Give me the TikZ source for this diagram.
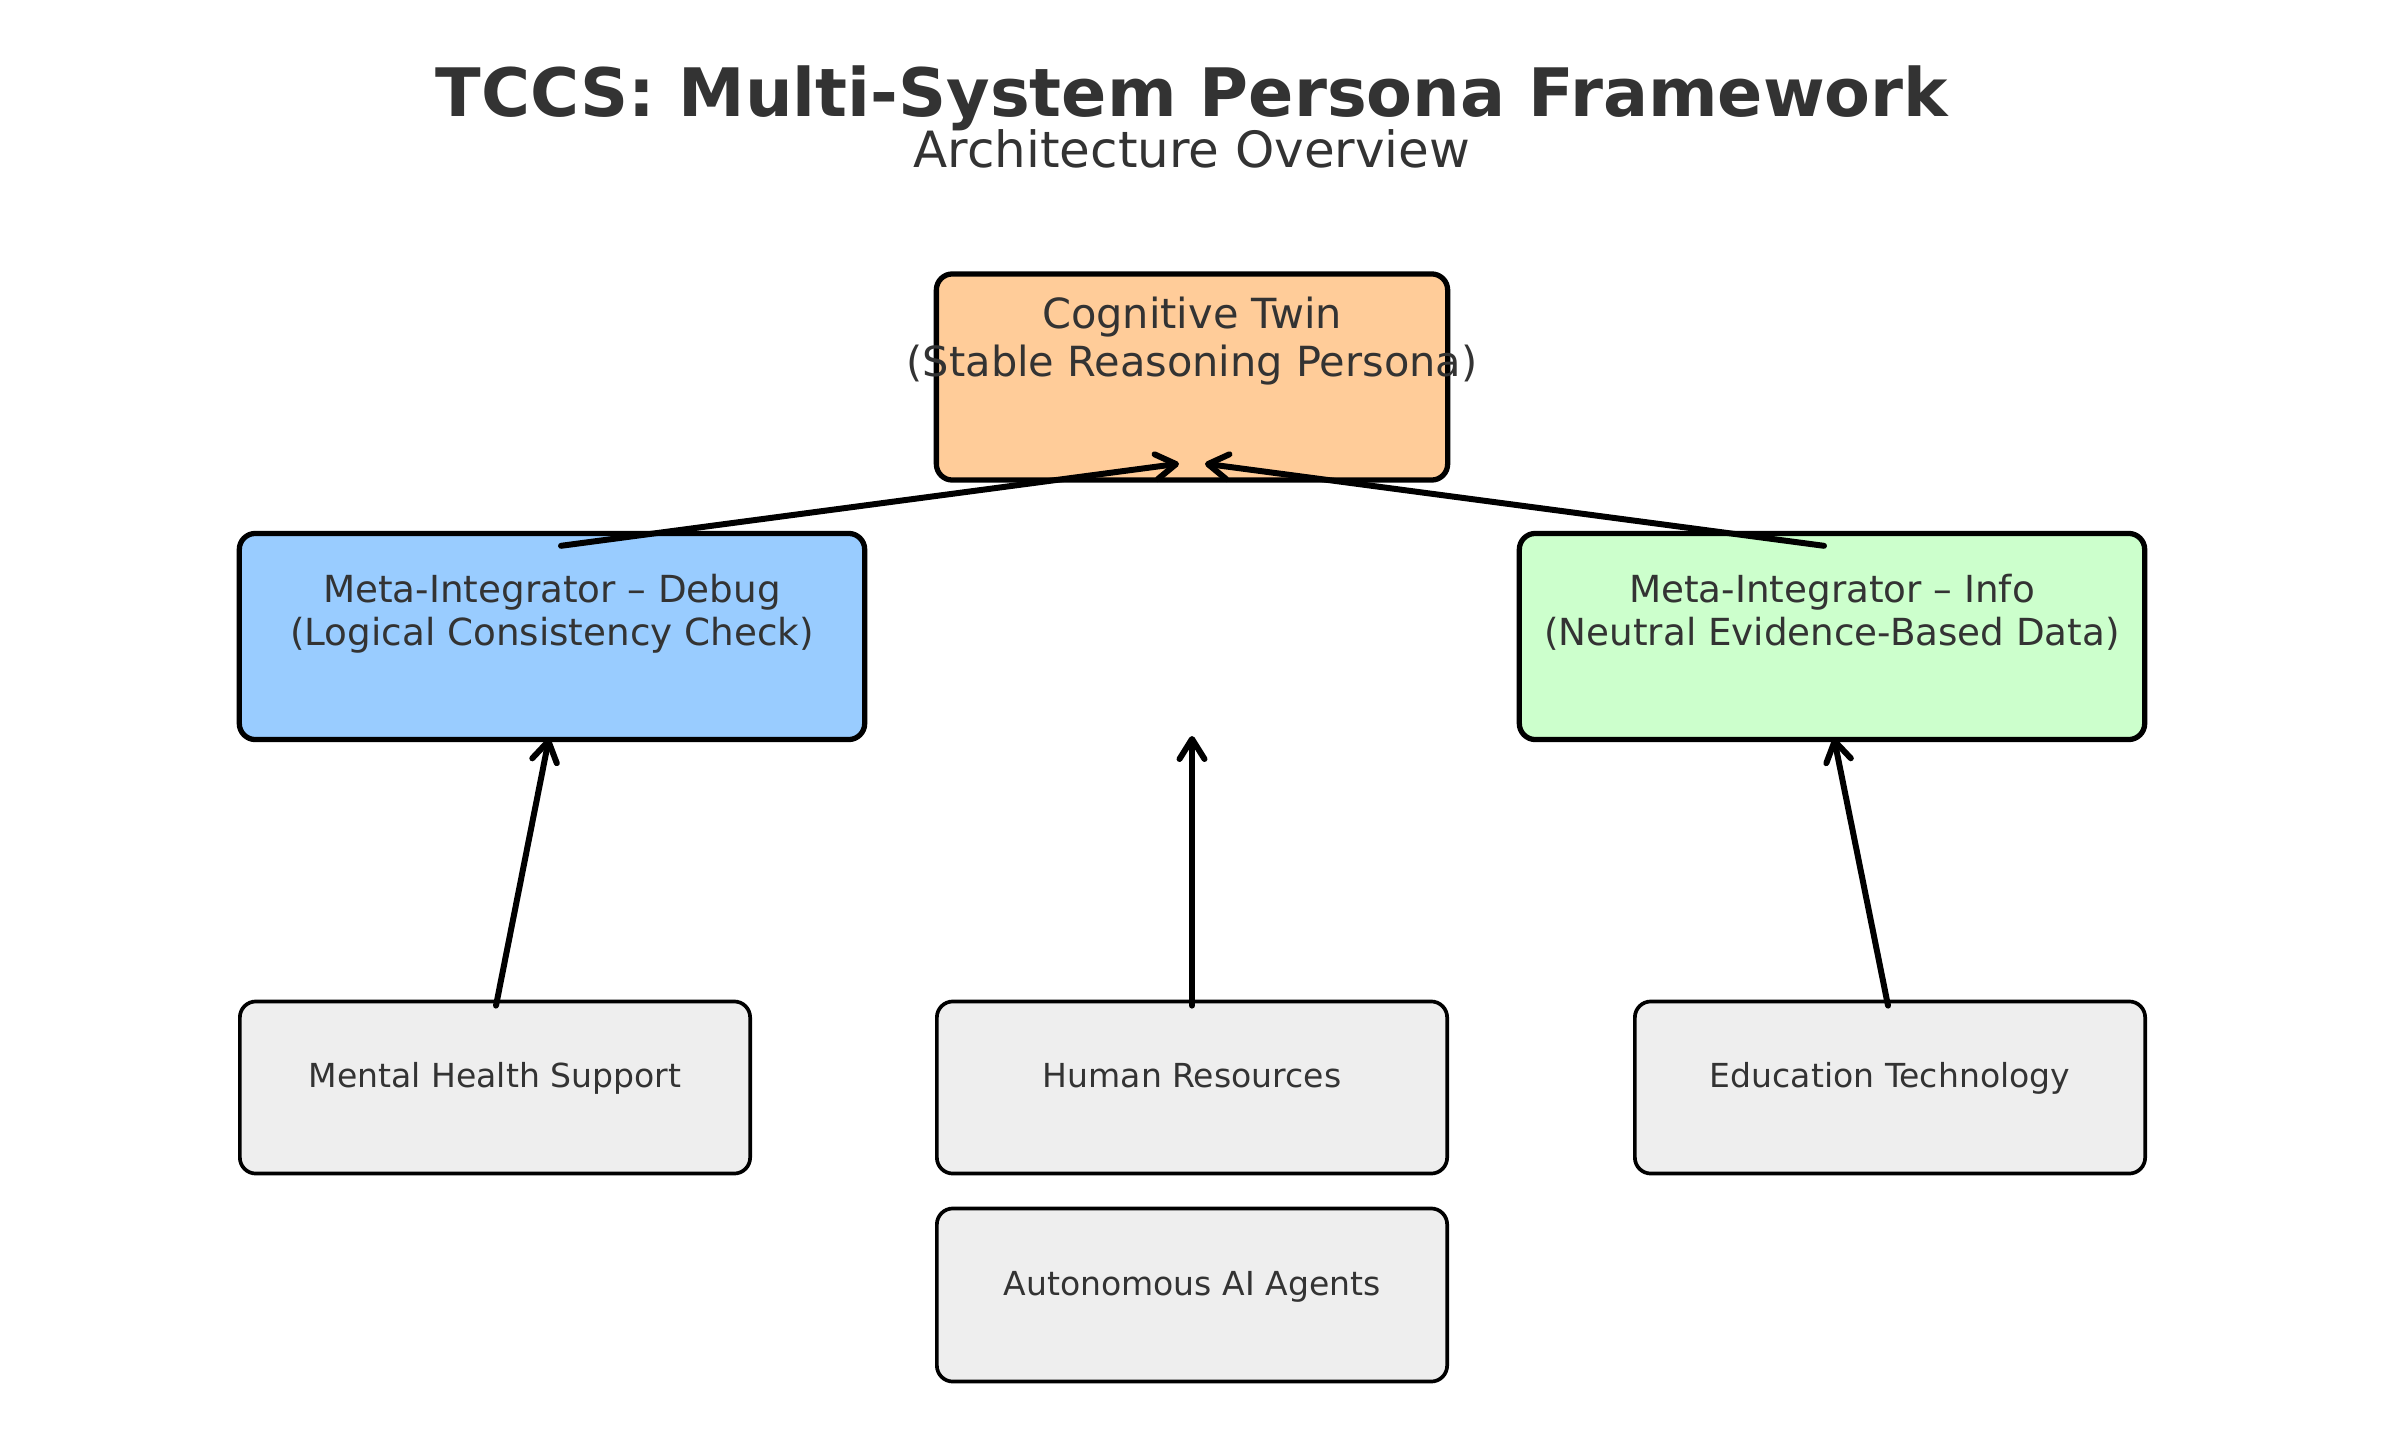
\documentclass[tikz,border=0pt]{standalone}
\usepackage{fontspec}
\setmainfont{DejaVu Sans}
\usetikzlibrary{arrows.meta}
\definecolor{txt}{HTML}{333333}
\definecolor{twinc}{HTML}{FFCC99}
\definecolor{debugc}{HTML}{99CCFF}
\definecolor{infoc}{HTML}{CCFFCC}
\definecolor{appc}{HTML}{EEEEEE}
\tikzset{
  core/.style={draw=black, line width=1.5pt, rounded corners=0.16cm, minimum width=5.11cm, minimum height=2.06cm, inner sep=0pt},
  meta/.style={core, minimum width=6.25cm},
  app/.style={draw=black, line width=1.05pt, rounded corners=0.16cm, fill=appc, minimum width=5.10cm, minimum height=1.72cm, inner sep=0pt},
  lbl/.style={text=txt, align=center, anchor=base, inner sep=0pt},
  flow/.style={line width=1.7pt, line cap=round, -{Straight Barb[length=0.2cm,width=0.25cm,line cap=round,line join=round]}}
}
\begin{document}
\begin{tikzpicture}[x=0.01cm,y=-0.01cm]
        \fill[white] (0,0) rectangle (2385,1446);
        \useasboundingbox (0,0) rectangle (2385,1446);
        % title
        \node[lbl, font=\fontsize{19}{23}\selectfont\bfseries] (title) at (1192,117) {TCCS: Multi-System Persona Framework};
        \node[lbl, font=\fontsize{14.2}{16}\selectfont] (subtitle) at (1192,168) {Architecture Overview};
        % boxes
        \node[core, fill=twinc] (twin) at (1192,377) {};
        \node[meta, fill=debugc] (debug) at (552,636.5) {};
        \node[meta, fill=infoc] (info) at (1832,636.5) {};
        \node[app] (mental) at (495,1087.5) {};
        \node[app] (hr) at (1192,1087.5) {};
        \node[app] (edu) at (1890,1087.5) {};
        \node[app, minimum height=1.73cm] (agents) at (1192,1295) {};
        \coordinate (hub) at (1192,736);
        % texts (base = last line)
        \node[lbl, font=\fontsize{11.8}{13.9}\selectfont] (twintxt) at (1192,377) {Cognitive Twin\\(Stable Reasoning Persona)};
        \node[lbl, font=\fontsize{10.6}{12.2}\selectfont] (debugtxt) at (552,645) {Meta-Integrator -- Debug\\(Logical Consistency Check)};
        \node[lbl, font=\fontsize{10.6}{12.2}\selectfont] (infotxt) at (1832,645) {Meta-Integrator -- Info\\(Neutral Evidence-Based Data)};
        \node[lbl, font=\fontsize{9.4}{11}\selectfont] (mentaltxt) at (495,1087) {Mental Health Support};
        \node[lbl, font=\fontsize{9.4}{11}\selectfont] (hrtxt) at (1192,1087) {Human Resources};
        \node[lbl, font=\fontsize{9.4}{11}\selectfont] (edutxt) at (1890,1087) {Education Technology};
        \node[lbl, font=\fontsize{9.4}{11}\selectfont] (agentstxt) at (1192,1295) {Autonomous AI Agents};
        % arrows
        \draw[flow] ([xshift=0.09cm,yshift=-0.15cm]debug.north) -- ([xshift=-0.13cm,yshift=0.19cm]twin.south);
        \draw[flow] ([xshift=-0.08cm,yshift=-0.15cm]info.north) -- ([xshift=0.13cm,yshift=0.19cm]twin.south);
        \draw[flow] ([xshift=0.01cm,yshift=-0.06cm]mental.north) -- ([xshift=-0.03cm,yshift=0.04cm]debug.south);
        \draw[flow] ([yshift=-0.06cm]hr.north) -- (hub);
        \draw[flow] ([xshift=-0.02cm,yshift=-0.06cm]edu.north) -- ([xshift=0.02cm,yshift=0.04cm]info.south);
\end{tikzpicture}
\end{document}
